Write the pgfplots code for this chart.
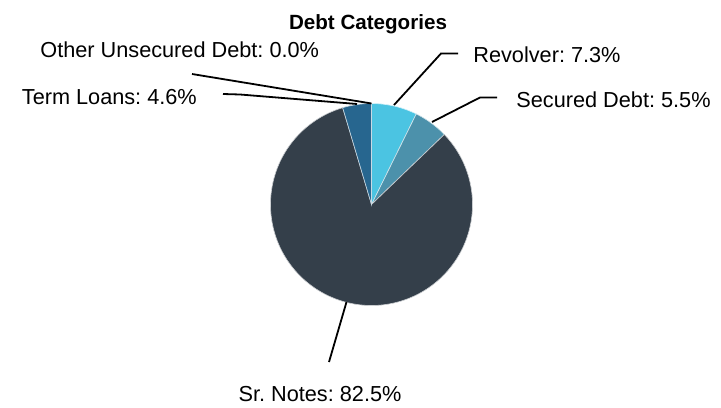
\documentclass[border=0pt]{standalone}
\usepackage{fontspec}
\setmainfont{Liberation Sans}
\usepackage{pgfplots}
\pgfplotsset{compat=1.18}
\definecolor{revcol}{HTML}{4BC4E2}
\definecolor{seccol}{HTML}{4C91AB}
\definecolor{srcol}{HTML}{343F4A}
\definecolor{termcol}{HTML}{27668F}

% shares in percent, clockwise from 12 o'clock
\def\vRev{7.3}
\def\vSec{5.5}
\def\vSr{82.5}
\def\vTerm{4.6}
\def\vOther{0.0}

\pgfmathsetmacro\vTot{\vRev+\vSec+\vSr+\vTerm+\vOther}
\pgfmathsetmacro\aA{90}
\pgfmathsetmacro\aB{\aA-\vRev/\vTot*360}
\pgfmathsetmacro\aC{\aB-\vSec/\vTot*360}
\pgfmathsetmacro\aD{\aC-\vSr/\vTot*360}
\pgfmathsetmacro\aE{\aD-\vTerm/\vTot*360}

\def\cx{371.5}
\def\cy{204.5}
\def\r{101}

\tikzset{
    wedge/.style={draw=white!75!#1, line width=0.3pt, fill=#1},
    leader/.style={black, line width=0.9pt, mark=none},
    lbl/.style={font=\fontsize{10.85}{13}\selectfont, inner sep=0pt},
}

\begin{document}
\frenchspacing
\begin{tikzpicture}
\begin{axis}[
    scale only axis,
    width=360.5pt, height=203.5pt,
    xmin=0, xmax=721, ymin=0, ymax=407,
    y dir=reverse,
    hide axis,
    clip=false,
]
\path (axis cs:0,0) rectangle (axis cs:721,407);

\addplot[wedge=revcol, domain=\aB:\aA, samples=30]
    ({\cx+\r*cos(x)}, {\cy-\r*sin(x)}) -- (axis cs:\cx,\cy) -- cycle;
\addplot[wedge=seccol, domain=\aC:\aB, samples=30]
    ({\cx+\r*cos(x)}, {\cy-\r*sin(x)}) -- (axis cs:\cx,\cy) -- cycle;
\addplot[wedge=srcol, domain=\aD:\aC, samples=200]
    ({\cx+\r*cos(x)}, {\cy-\r*sin(x)}) -- (axis cs:\cx,\cy) -- cycle;
\addplot[wedge=termcol, domain=\aE:\aD, samples=30]
    ({\cx+\r*cos(x)}, {\cy-\r*sin(x)}) -- (axis cs:\cx,\cy) -- cycle;

% leader lines
\addplot[leader] coordinates {(394,105) (441,53.5) (458,53.5)};
\addplot[leader] coordinates {(432,122) (480,97.5) (497,97.5)};
\addplot[leader] coordinates {(346.5,302) (329,362)};
\addplot[leader] coordinates {(357,104) (240,94.5) (223,94)};
\addplot[leader] coordinates {(371.5,103.5) (192,74)};

% labels
\node[lbl, anchor=base west] at (axis cs:473,62.5) {Revolver: 7.3\%};
\node[lbl, anchor=base west] at (axis cs:516,107.5) {Secured Debt: 5.5\%};
\node[lbl, anchor=base] at (axis cs:320,401.5) {Sr. Notes: 82.5\%};
\node[lbl, anchor=base west] at (axis cs:21.5,104) {Term Loans: 4.6\%};
\node[lbl, anchor=base west] at (axis cs:40,57.5) {Other Unsecured Debt: 0.0\%};
\node[lbl, anchor=base, font=\fontsize{10.3}{12}\selectfont\bfseries] at (axis cs:368,29) {Debt Categories};
\end{axis}
\end{tikzpicture}
\end{document}
